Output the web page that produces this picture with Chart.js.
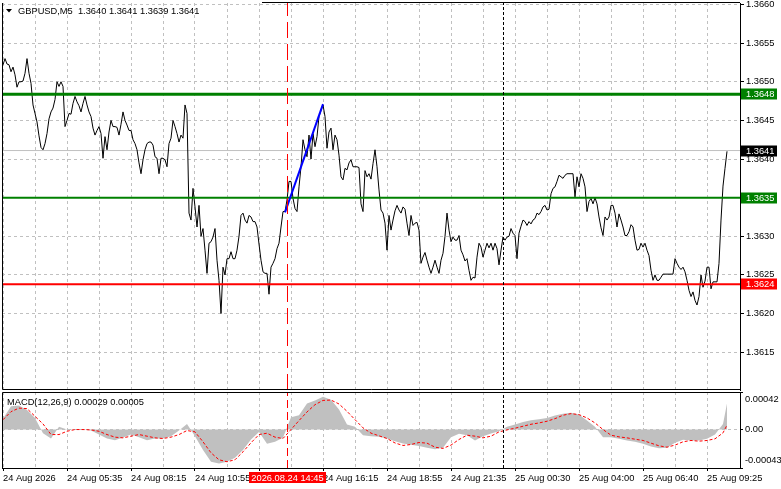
<!DOCTYPE html>
<html>
<head>
<meta charset="utf-8">
<script src="https://cdn.jsdelivr.net/npm/chart.js@4.4.1/dist/chart.umd.min.js"></script>
<style>
  html, body { margin: 0; padding: 0; background: #fff; }
  #wrap { position: relative; width: 781px; height: 489px; overflow: hidden; }
  #main { position: absolute; left: 0; top: 0; }
  #macd { position: absolute; left: 0; top: 390px; }
</style>
</head>
<body>
<div id="wrap">
  <canvas id="main" width="781" height="392"></canvas>
  <canvas id="macd" width="781" height="99"></canvas>
</div>
<script>
// GBPUSD M5 closes, one per bar (bar 0 = first visible bar)
const closes = [
  1.36522,1.36530,1.36523,1.36522,1.36513,1.36519,1.36509,1.36493,1.36500,1.36500,
  1.36501,1.36511,1.36530,1.36511,1.36498,1.36470,1.36459,1.36448,1.36430,1.36415,
  1.36412,1.36420,1.36433,1.36452,1.36461,1.36466,1.36477,1.36500,1.36494,1.36500,
  1.36494,1.36442,1.36450,1.36459,1.36458,1.36472,1.36481,1.36474,1.36469,1.36461,
  1.36472,1.36481,1.36470,1.36461,1.36455,1.36440,1.36431,1.36437,1.36442,1.36433,
  1.36401,1.36429,1.36412,1.36435,1.36450,1.36442,1.36442,1.36441,1.36431,1.36445,
  1.36461,1.36450,1.36444,1.36437,1.36437,1.36425,1.36420,1.36412,1.36395,1.36381,
  1.36399,1.36412,1.36420,1.36422,1.36422,1.36418,1.36403,1.36401,1.36381,1.36401,
  1.36401,1.36399,1.36390,1.36420,1.36427,1.36450,1.36442,1.36433,1.36422,1.36431,
  1.36427,1.36470,1.36459,1.36330,1.36321,1.36362,1.36338,1.36312,1.36340,1.36300,
  1.36310,1.36282,1.36252,1.36291,1.36293,1.36299,1.36310,1.36269,1.36243,1.36200,
  1.36260,1.36250,1.36271,1.36271,1.36280,1.36271,1.36271,1.36282,1.36300,1.36327,
  1.36330,1.36321,1.36317,1.36327,1.36325,1.36319,1.36319,1.36312,1.36290,1.36269,
  1.36254,1.36252,1.36252,1.36225,1.36260,1.36265,1.36271,1.36284,1.36291,1.36312,
  1.36332,1.36332,1.36347,1.36371,1.36371,1.36349,1.36336,1.36332,1.36364,1.36390,
  1.36425,1.36412,1.36403,1.36431,1.36400,1.36433,1.36416,1.36429,1.36455,1.36463,
  1.36470,1.36455,1.36414,1.36435,1.36440,1.36412,1.36431,1.36425,1.36405,1.36377,
  1.36373,1.36388,1.36386,1.36395,1.36399,1.36390,1.36390,1.36390,1.36389,1.36342,
  1.36332,1.36385,1.36377,1.36381,1.36374,1.36394,1.36412,1.36390,1.36360,1.36334,
  1.36330,1.36317,1.36282,1.36327,1.36308,1.36321,1.36333,1.36340,1.36334,1.36330,
  1.36338,1.36335,1.36317,1.36301,1.36327,1.36314,1.36317,1.36318,1.36308,1.36265,
  1.36273,1.36279,1.36269,1.36260,1.36252,1.36260,1.36269,1.36260,1.36252,1.36269,
  1.36278,1.36300,1.36330,1.36308,1.36293,1.36299,1.36295,1.36295,1.36301,1.36282,
  1.36276,1.36268,1.36271,1.36256,1.36243,1.36247,1.36246,1.36273,1.36291,1.36286,
  1.36273,1.36282,1.36291,1.36285,1.36291,1.36282,1.36291,1.36284,1.36263,1.36282,
  1.36299,1.36295,1.36299,1.36300,1.36310,1.36304,1.36301,1.36271,1.36304,1.36313,
  1.36321,1.36319,1.36314,1.36319,1.36316,1.36321,1.36323,1.36330,1.36328,1.36332,
  1.36338,1.36340,1.36334,1.36335,1.36355,1.36362,1.36364,1.36371,1.36379,1.36377,
  1.36375,1.36379,1.36381,1.36381,1.36381,1.36381,1.36351,1.36377,1.36364,1.36381,
  1.36375,1.36364,1.36332,1.36345,1.36349,1.36342,1.36350,1.36342,1.36325,1.36311,
  1.36301,1.36325,1.36321,1.36325,1.36340,1.36340,1.36330,1.36312,1.36329,1.36321,
  1.36312,1.36301,1.36301,1.36306,1.36315,1.36312,1.36295,1.36282,1.36283,1.36291,
  1.36286,1.36291,1.36282,1.36275,1.36256,1.36243,1.36250,1.36243,1.36243,1.36247,
  1.36251,1.36251,1.36251,1.36251,1.36251,1.36251,1.36271,1.36265,1.36260,1.36257,
  1.36260,1.36254,1.36243,1.36230,1.36222,1.36228,1.36217,1.36211,1.36222,1.36250,
  1.36234,1.36242,1.36260,1.36260,1.36232,1.36241,1.36241,1.36241,1.36265,1.36321,
  1.36365,1.36388,1.36410
];

// MACD(12,26,9), read every 4th bar, last entry is the final bar
const macdHist = [
  0.00012,0.00026,0.00027,0.00022,0.00013,-0.00004,-0.00010,0.00003,0.00000,0.000005,
  0.00000,-0.00001,-0.000056,-0.00010,-0.00012,-0.00009,-0.000056,-0.000085,-0.00012,-0.00010,
  -0.00010,-0.000074,-0.00001,0.000063,-0.000074,-0.00023,-0.00036,-0.00038,-0.00036,-0.000315,
  -0.00023,-0.00011,-0.000026,-0.00016,-0.000137,-0.000093,0.000137,0.00016,0.00029,0.000326,
  0.000367,0.000334,0.000223,0.000056,0.00003,-0.000063,-0.000074,-0.00008,-0.00010,-0.00013,
  -0.000156,-0.00017,-0.000185,-0.000204,-0.000219,-0.000204,-0.000085,-0.000048,-0.000063,-0.000122,
  -0.000074,-0.000045,-0.000019,0.00003,0.000056,0.000085,0.000104,0.000115,0.00013,0.000156,
  0.000178,0.000189,0.000167,0.00010,0.00003,-0.000085,-0.000085,-0.000104,-0.000122,-0.000137,
  -0.00016,-0.000189,-0.000208,-0.000204,-0.000148,-0.000115,-0.000122,-0.000122,-0.000104,-0.000056,
  0.000063,0.00029
];
const macdSignal = [
  0.00011,0.00020,0.00024,0.000234,0.000148,0.000063,-0.000056,-0.000056,-0.000019,0,
  0,-0.000004,-0.000019,-0.000056,-0.000085,-0.000093,-0.000074,-0.000056,-0.000074,-0.000093,
  -0.00010,-0.000085,-0.000056,-0.000011,-0.000026,-0.000137,-0.00026,-0.000338,-0.00036,-0.000338,
  -0.000249,-0.000148,-0.000056,-0.000041,-0.000085,-0.00010,0,0.00010,0.000197,0.000278,
  0.000326,0.00033,0.000286,0.000204,0.000111,0.000019,-0.00004,-0.00007,-0.00010,-0.00015,
  -0.000178,-0.000167,-0.000145,-0.000152,-0.000197,-0.000211,-0.000174,-0.000111,-0.000063,-0.000074,
  -0.000093,-0.000074,-0.000026,-0.000004,0.000015,0.000037,0.000059,0.000074,0.000093,0.000122,
  0.00016,0.000178,0.000167,0.00013,0.000074,0,-0.000063,-0.000082,-0.000093,-0.000108,
  -0.000122,-0.000152,-0.000182,-0.000197,-0.000174,-0.000137,-0.000122,-0.00013,-0.000122,-0.000104,
  -0.000037,0.00005
];

const tickBars = [0, 32, 64, 96, 128, 160, 192, 224, 256, 288, 320, 352];
const tickLabels = ['24 Aug 2026', '24 Aug 05:35', '24 Aug 08:15', '24 Aug 10:55', '24 Aug 13:35',
  '24 Aug 16:15', '24 Aug 18:55', '24 Aug 21:35', '25 Aug 00:30', '25 Aug 04:00',
  '25 Aug 06:40', '25 Aug 09:25'];
const priceTicks = [1.3615, 1.3620, 1.3625, 1.3630, 1.3635, 1.3640, 1.3645, 1.3650, 1.3655, 1.3660];
const macdTicks = [-0.00043, 0, 0.00042];
const macdTickLabels = ['-0.00043', '0.00', '0.00042'];

// levels drawn on the chart
const levelValues = [1.36484, 1.36350, 1.36238];
const bidValue = 1.36411;
const trendBars = [141, 160];
const trendPrices = [1.36331, 1.36471];
const crossBar = 142.25;
const crossLabel = '2026.08.24 14:45';
const daySepBar = 250.25;
const title = 'GBPUSD,M5  1.3640 1.3641 1.3639 1.3641';
const macdTitle = 'MACD(12,26,9) 0.00029 0.00005';

const xMin = -0.5, xMax = 368.5;
const priceMin = 1.36101, priceMax = 1.36602;
const macdMin = -0.00043, macdMax = 0.00042;
const gridBars = [];
for (let b = 0; b <= 352; b += 16) gridBars.push(b);

const GRID = '#c0c0c0';
const FONT = '"Liberation Sans", Arial, sans-serif';
const FSIZE = 9.3;
Chart.defaults.font.family = FONT;
Chart.defaults.font.size = FSIZE;
Chart.defaults.color = '#000';

const levelColors = ['#008000', '#008000', '#ff0000'];
const levelWidths = [3, 2, 2];

function flat(v, color, width, order) {
  return { data: [{ x: xMin, y: v }, { x: xMax, y: v }], borderColor: color, borderWidth: width,
    pointRadius: 0, order: order };
}
function upright(bar, lo, hi, color, dash) {
  return { data: [{ x: bar, y: lo }, { x: bar, y: hi }], borderColor: color, borderWidth: 1,
    borderDash: dash, pointRadius: 0, order: 0 };
}
function noPad(s) { s.paddingTop = 0; s.paddingBottom = 0; s.paddingLeft = 0; s.paddingRight = 0; }

function priceBox(ctx, area, y, v, bg) {
  const py = y.getPixelForValue(v);
  ctx.fillStyle = bg;
  ctx.fillRect(area.right + 1, Math.round(py) - 5.5, 36, 11);
  ctx.fillStyle = '#fff';
  ctx.textBaseline = 'middle';
  ctx.textAlign = 'left';
  ctx.fillText(v.toFixed(4), area.right + 6, py + 0.5);
}

const mainDecor = {
  id: 'mainDecor',
  afterDraw(chart) {
    const { ctx, chartArea: a, scales: { y } } = chart;
    ctx.save();
    ctx.strokeStyle = '#000';
    ctx.lineWidth = 1;
    ctx.beginPath();
    ctx.moveTo(a.left + 0.5, a.top);
    ctx.lineTo(a.left + 0.5, a.bottom - 0.5);
    ctx.lineTo(a.right, a.bottom - 0.5);
    ctx.moveTo(262, a.top - 0.5);
    ctx.lineTo(a.right, a.top - 0.5);
    ctx.stroke();

    ctx.font = FSIZE + 'px ' + FONT;
    priceBox(ctx, a, y, levelValues[0], levelColors[0]);
    priceBox(ctx, a, y, bidValue, '#000');
    priceBox(ctx, a, y, levelValues[1], levelColors[1]);
    priceBox(ctx, a, y, levelValues[2], levelColors[2]);

    ctx.fillStyle = '#000';
    ctx.beginPath();
    ctx.moveTo(6, 9); ctx.lineTo(12, 9); ctx.lineTo(9, 12.5); ctx.closePath();
    ctx.fill();
    ctx.textBaseline = 'alphabetic';
    ctx.fillText(title, 18, 13.5);
    ctx.restore();
  }
};

const macdDecor = {
  id: 'macdDecor',
  afterDraw(chart) {
    const { ctx, chartArea: a, scales: { x } } = chart;
    ctx.save();
    ctx.strokeStyle = '#000';
    ctx.lineWidth = 1;
    ctx.beginPath();
    ctx.moveTo(a.left + 0.5, a.bottom);
    ctx.lineTo(a.left + 0.5, a.top + 0.5);
    ctx.lineTo(a.right, a.top + 0.5);
    ctx.stroke();

    ctx.font = FSIZE + 'px ' + FONT;
    ctx.fillStyle = '#000';
    ctx.textBaseline = 'alphabetic';
    ctx.textAlign = 'left';
    ctx.fillText(macdTitle, 7, 14.5);

    const cx = x.getPixelForValue(crossBar);
    ctx.fillStyle = '#ff0000';
    ctx.fillRect(Math.round(cx) - 39, a.bottom + 4, 77, 11);
    ctx.fillStyle = '#fff';
    ctx.textAlign = 'center';
    ctx.textBaseline = 'middle';
    ctx.fillText(crossLabel, cx, a.bottom + 10);
    ctx.restore();
  }
};

const xGridScale = {
  type: 'linear', min: xMin, max: xMax,
  afterBuildTicks: s => { s.ticks = gridBars.map(v => ({ value: v })); },
  grid: { color: GRID, drawTicks: false },
  border: { display: false, dash: [3, 3] }
};

new Chart(document.getElementById('main'), {
  type: 'line',
  data: {
    datasets: [
      { data: closes.map((c, i) => ({ x: i, y: c })), borderColor: '#000', borderWidth: 1,
        pointRadius: 0, order: 3 },
      flat(bidValue, '#c0c0c0', 1, 4),
      flat(levelValues[0], levelColors[0], levelWidths[0], 2),
      flat(levelValues[1], levelColors[1], levelWidths[1], 2),
      flat(levelValues[2], levelColors[2], levelWidths[2], 2),
      { data: trendBars.map((b, i) => ({ x: b, y: trendPrices[i] })), borderColor: '#0000ff',
        borderWidth: 2, pointRadius: 0, order: 1 },
      upright(crossBar, priceMin, priceMax, '#ff0000', [16, 6]),
      upright(daySepBar, priceMin, priceMax, '#000', [3, 2])
    ]
  },
  options: {
    responsive: false, animation: false, events: [],
    layout: { padding: { left: 2, top: 3, right: 0, bottom: 2 } },
    plugins: { legend: { display: false }, tooltip: { enabled: false } },
    scales: {
      x: Object.assign({}, xGridScale, {
        ticks: { display: false },
        afterFit: s => { s.height = 0; noPad(s); }
      }),
      y: {
        position: 'right', min: priceMin, max: priceMax,
        afterBuildTicks: s => { s.ticks = priceTicks.map(v => ({ value: v })); },
        afterFit: s => { s.width = 41; noPad(s); },
        ticks: { padding: 2, callback: v => v.toFixed(4) },
        grid: { color: GRID, tickColor: '#000', tickLength: 4 },
        border: { display: true, color: '#000', dash: [3, 3] }
      }
    }
  },
  plugins: [mainDecor]
});

const macdBars = macdHist.map((v, i) => Math.min(i * 4, closes.length - 1));

new Chart(document.getElementById('macd'), {
  type: 'line',
  data: {
    datasets: [
      { data: macdHist.map((v, i) => ({ x: macdBars[i], y: v })), borderWidth: 0, borderColor: 'rgba(0,0,0,0)',
        backgroundColor: '#c0c0c0', fill: 'origin', pointRadius: 0, order: 3 },
      { data: macdSignal.map((v, i) => ({ x: macdBars[i], y: v })), borderColor: '#ff0000',
        borderWidth: 1, borderDash: [3, 2], pointRadius: 0, order: 2 },
      upright(crossBar, macdMin, macdMax, '#ff0000', [8, 4]),
      upright(daySepBar, macdMin, macdMax, '#000', [3, 2])
    ]
  },
  options: {
    responsive: false, animation: false, events: [],
    layout: { padding: { left: 2, top: 2, right: 0, bottom: 0 } },
    plugins: { legend: { display: false }, tooltip: { enabled: false } },
    scales: {
      x: Object.assign({}, xGridScale, {
        afterFit: s => { s.height = 21; noPad(s); },
        ticks: {
          autoSkip: false, maxRotation: 0, minRotation: 0, align: 'start', padding: 2,
          callback: v => { const k = tickBars.indexOf(v); return k >= 0 ? tickLabels[k] : ''; }
        },
        grid: {
          color: GRID, drawTicks: true, tickLength: 3,
          tickColor: c => (c.tick && tickBars.indexOf(c.tick.value) >= 0 ? '#000' : 'rgba(0,0,0,0)')
        },
        border: { display: true, color: '#000', dash: [3, 3] }
      }),
      y: {
        position: 'right', min: macdMin, max: macdMax,
        afterBuildTicks: s => { s.ticks = macdTicks.map(v => ({ value: v })); },
        afterFit: s => { s.width = 41; noPad(s); },
        ticks: {
          padding: 2, font: { lineHeight: 1.6 },
          callback: (v, i) => i === 0 ? [macdTickLabels[0], ''] :
            (i === macdTicks.length - 1 ? ['', macdTickLabels[i]] : macdTickLabels[i])
        },
        grid: {
          color: c => (c.tick && c.tick.value === 0 ? GRID : 'rgba(0,0,0,0)'),
          tickColor: '#000', tickLength: 3
        },
        border: { display: true, color: '#000', dash: [3, 3] }
      }
    }
  },
  plugins: [macdDecor]
});
</script>
</body>
</html>
